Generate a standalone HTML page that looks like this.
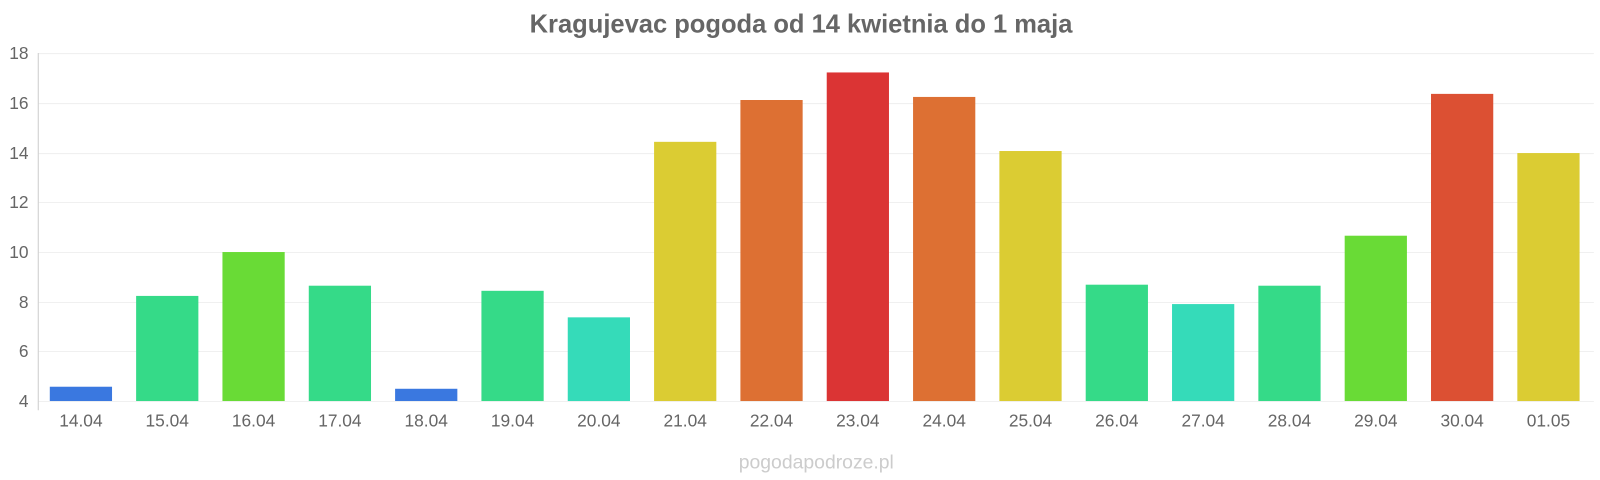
<!DOCTYPE html>
<html><head><meta charset="utf-8"><style>
body{margin:0;background:#fff;}
svg{display:block;font-family:"Liberation Sans",sans-serif;}
</style></head><body>
<svg width="1600" height="480" viewBox="0 0 1600 480">
<g transform="scale(1.0204)">
<text x="785" y="32" text-anchor="middle" font-size="25" font-weight="bold" fill="#666">Kragujevac pogoda od 14 kwietnia do 1 maja</text>
<g stroke="#f0f0f0" stroke-width="1">
<line x1="38" x2="1562" y1="52.5" y2="52.5"/><line x1="38" x2="1562" y1="101.5" y2="101.5"/>
<line x1="38" x2="1562" y1="150.5" y2="150.5"/><line x1="38" x2="1562" y1="198.5" y2="198.5"/>
<line x1="38" x2="1562" y1="247.5" y2="247.5"/><line x1="38" x2="1562" y1="296.5" y2="296.5"/>
<line x1="38" x2="1562" y1="344.5" y2="344.5"/><line x1="38" x2="1562" y1="393.5" y2="393.5"/>
</g>
<line x1="37.5" x2="37.5" y1="52" y2="402" stroke="#ccc"/>
<g font-size="17" fill="#666" text-anchor="end">
<text x="28" y="58">18</text><text x="28" y="107">16</text><text x="28" y="156">14</text><text x="28" y="204">12</text>
<text x="28" y="253">10</text><text x="28" y="302">8</text><text x="28" y="350">6</text><text x="28" y="399">4</text>
</g>
<g id="bars"></g>
<g id="labs" font-size="17" fill="#666" text-anchor="middle"></g>
<text x="800" y="459" text-anchor="middle" font-size="19" fill="#ccc">pogodapodroze.pl</text>
</g>
</svg>
<script>
var d=[["14.04",379,"#3a78e0"],["15.04",290,"#35da88"],["16.04",247,"#69db36"],["17.04",280,"#35da88"],["18.04",381,"#3a78e0"],["19.04",285,"#35da88"],["20.04",311,"#35dbb9"],["21.04",139,"#dbcc33"],["22.04",98,"#dd7033"],["23.04",71,"#db3434"],["24.04",95,"#dd7033"],["25.04",148,"#dbcc33"],["26.04",279,"#35da88"],["27.04",298,"#35dbb9"],["28.04",280,"#35da88"],["29.04",231,"#69db36"],["30.04",92,"#dc5033"],["01.05",150,"#dbcc33"]];
var b="",l="",w=84.6;
d.forEach(function(r,i){var cx=37+w*(i+0.5);
b+='<rect x="'+(cx-30.5)+'" y="'+r[1]+'" width="61" height="'+(393-r[1])+'" fill="'+r[2]+'"/>';
l+='<text x="'+cx+'" y="418">'+r[0]+'</text>';});
document.getElementById("bars").innerHTML=b;document.getElementById("labs").innerHTML=l;
</script>
</body></html>
